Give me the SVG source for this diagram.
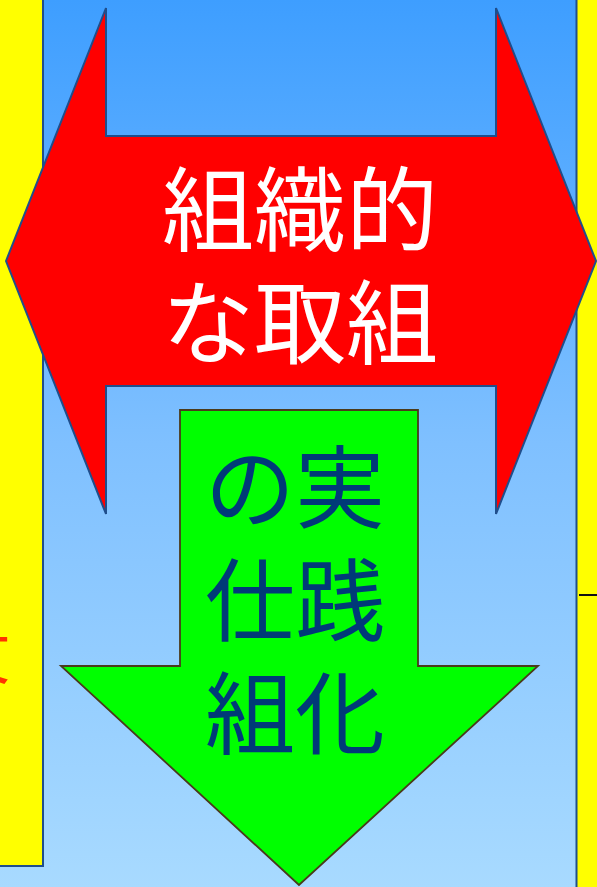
<svg xmlns="http://www.w3.org/2000/svg" width="597" height="887" viewBox="0 0 597 887">
<defs>
<linearGradient id="bg" x1="0" y1="0" x2="0" y2="1">
<stop offset="0" stop-color="#3E9EFF"/>
<stop offset="0.5" stop-color="#7FC0FF"/>
<stop offset="1" stop-color="#A8DAFF"/>
</linearGradient>
<clipPath id="lclip"><rect x="0" y="0" width="43" height="866"/></clipPath>
</defs>
<style>
.bar{fill:#FFFF00;stroke:#1F4E8C;stroke-width:2}
.cjk{font-family:"Noto Sans CJK JP","Noto Sans CJK SC",sans-serif;text-anchor:middle}
.w{fill:#FFFFFF;font-size:92px}
.b{fill:#003A78;font-size:90px}
</style>
<rect x="0" y="0" width="597" height="887" fill="url(#bg)"/>
<g id="left-panel">
<rect class="bar" x="-5" y="-5" width="48" height="871"/>
<text clip-path="url(#lclip)" x="10" y="679" style="font-family:'Noto Sans CJK JP',sans-serif;font-size:62px;fill:#FF3300;text-anchor:end">文</text>
</g>
<g id="right-panel">
<rect class="bar" x="576.5" y="-5" width="30" height="897"/>
<line x1="579" y1="595" x2="597" y2="595" stroke="#111" stroke-width="2"/>
</g>
<g id="connectors"></g>
<g id="red-double-arrow">
<polygon points="6,261 106,8 106,136 496,136 496,8 596,261 496,514 496,386 106,386 106,514" fill="#FF0000" stroke="#1F4E8C" stroke-width="2" stroke-linejoin="miter"/>
<text class="cjk w"><tspan x="300" y="244">組織的</tspan><tspan x="300" y="357">な取組</tspan></text>
</g>
<g id="green-down-arrow">
<polygon points="180,410 418,410 418,666 538,666 299,885 61,666 180,666" fill="#00FF00" stroke="#4A3A1A" stroke-width="1.8"/>
<text class="cjk b"><tspan x="295" y="521">の実</tspan><tspan x="295" y="634">仕践</tspan><tspan x="295" y="747">組化</tspan></text>
</g>
</svg>
